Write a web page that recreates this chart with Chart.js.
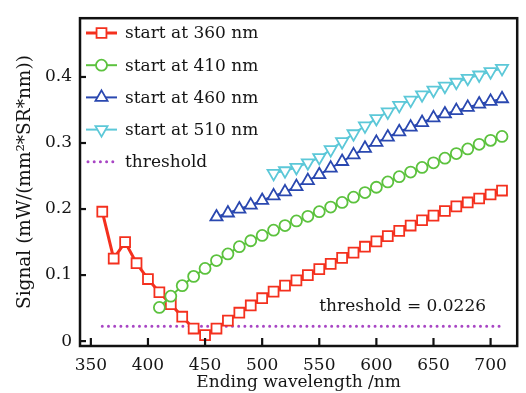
<!DOCTYPE html>
<html>
<head>
<meta charset="utf-8">
<script src="https://cdn.jsdelivr.net/npm/chart.js@4.4.1/dist/chart.umd.min.js"></script>
<style>
html,body{margin:0;padding:0;background:#fff;}
#wrap{width:526px;height:393px;position:relative;}
</style>
</head>
<body>
<div id="wrap"><canvas id="c" width="526" height="393"></canvas></div>
<script>
const xTicks = [350, 400, 450, 500, 550, 600, 650, 700];
const yTicks = [0, 0.1, 0.2, 0.3, 0.4];
const yTickLabels = ['0', '0.1', '0.2', '0.3', '0.4'];

const wl360 = [360,370,380,390,400,410,420,430,440,450,460,470,480,490,500,510,520,530,540,550,560,570,580,590,600,610,620,630,640,650,660,670,680,690,700,710];
const sig360 = [0.196,0.125,0.150,0.118,0.094,0.074,0.056,0.037,0.019,0.009,0.019,0.031,0.043,0.054,0.065,0.075,0.084,0.092,0.100,0.109,0.117,0.126,0.134,0.143,0.151,0.159,0.167,0.175,0.183,0.190,0.197,0.204,0.210,0.216,0.222,0.228];

const wl410 = [410,420,430,440,450,460,470,480,490,500,510,520,530,540,550,560,570,580,590,600,610,620,630,640,650,660,670,680,690,700,710];
const sig410 = [0.051,0.068,0.084,0.098,0.110,0.122,0.132,0.143,0.152,0.160,0.168,0.175,0.182,0.189,0.196,0.203,0.210,0.218,0.225,0.233,0.241,0.249,0.256,0.263,0.270,0.277,0.284,0.291,0.298,0.304,0.310];

const wl460 = [460,470,480,490,500,510,520,530,540,550,560,570,580,590,600,610,620,630,640,650,660,670,680,690,700,710];
const sig460 = [0.188,0.194,0.200,0.206,0.213,0.220,0.226,0.234,0.243,0.252,0.262,0.272,0.282,0.292,0.301,0.309,0.317,0.324,0.331,0.338,0.344,0.349,0.354,0.359,0.363,0.367];

const wl510 = [510,520,530,540,550,560,570,580,590,600,610,620,630,640,650,660,670,680,690,700,710];
const sig510 = [0.254,0.258,0.263,0.270,0.278,0.290,0.302,0.314,0.326,0.337,0.347,0.357,0.365,0.373,0.380,0.386,0.392,0.398,0.403,0.408,0.413];

const thresholdValue = 0.0226;
const thresholdRange = [360, 710];

const seriesNames = ['start at 360 nm', 'start at 410 nm', 'start at 460 nm', 'start at 510 nm', 'threshold'];
const thresholdLabel = 'threshold = 0.0226';
const xTitle = 'Ending wavelength /nm';
const yTitle = 'Signal (mW/(mm\u00B2*SR*nm))';

const RED = '#f4301e', GREEN = '#5cc23e', BLUE = '#2a48b0', CYAN = '#5cc8d8', PURPLE = '#a845c4';
const FONT = '"DejaVu Serif", serif';
const TXT = '#151515';

const pts = (xs, ys) => xs.map((x, i) => ({x: x, y: ys[i]}));

const styles = [
  {color: RED, style: 'rect', radius: 7, rot: 0, lw: 3},
  {color: GREEN, style: 'circle', radius: 5.5, rot: 0, lw: 2},
  {color: BLUE, style: 'triangle', radius: 7, rot: 0, lw: 2},
  {color: CYAN, style: 'triangle', radius: 7, rot: 180, lw: 2}
];
const seriesData = [pts(wl360, sig360), pts(wl410, sig410), pts(wl460, sig460), pts(wl510, sig510)];

const datasets = seriesData.map((d, i) => ({
  label: seriesNames[i],
  data: d,
  borderColor: styles[i].color,
  borderWidth: styles[i].lw,
  pointStyle: styles[i].style,
  pointRadius: styles[i].radius,
  pointRotation: styles[i].rot,
  pointBorderWidth: 1.8,
  pointBorderColor: styles[i].color,
  pointBackgroundColor: '#ffffff',
  tension: 0,
  order: 4 - i
}));
datasets.push({
  label: seriesNames[4],
  data: thresholdRange.map(x => ({x: x, y: thresholdValue})),
  borderColor: PURPLE,
  borderWidth: 3,
  borderDash: [0, 6.2],
  borderCapStyle: 'round',
  pointRadius: 0,
  order: 5
});

const custom = {
  id: 'custom',
  afterDraw(chart) {
    const ctx = chart.ctx, a = chart.chartArea;
    const xs = chart.scales.x, ys = chart.scales.y;
    ctx.save();
    // frame
    ctx.strokeStyle = '#111';
    ctx.lineWidth = 2.5;
    ctx.strokeRect(a.left, a.top, a.right - a.left, a.bottom - a.top);
    // inward ticks
    ctx.lineWidth = 2.2;
    xTicks.forEach(v => {
      const px = xs.getPixelForValue(v);
      ctx.beginPath(); ctx.moveTo(px, a.bottom); ctx.lineTo(px, a.bottom - 8); ctx.stroke();
    });
    yTicks.forEach(v => {
      const py = ys.getPixelForValue(v);
      ctx.beginPath(); ctx.moveTo(a.left, py); ctx.lineTo(a.left + 6, py); ctx.stroke();
    });
    // threshold annotation
    ctx.fillStyle = TXT;
    ctx.font = '17px ' + FONT;
    ctx.textAlign = 'center';
    ctx.textBaseline = 'middle';
    ctx.fillText(thresholdLabel, xs.getPixelForValue(623), ys.getPixelForValue(0.052));
    // legend
    const lx0 = a.left + 6, lx1 = a.left + 37, tx = a.left + 45;
    const ly0 = 33, step = 32.2;
    ctx.font = '17px ' + FONT;
    ctx.textAlign = 'left';
    for (let i = 0; i < 5; i++) {
      const y = ly0 + i * step;
      if (i < 4) {
        const s = styles[i];
        ctx.strokeStyle = s.color;
        ctx.lineWidth = s.lw;
        ctx.beginPath(); ctx.moveTo(lx0, y); ctx.lineTo(lx1, y); ctx.stroke();
        ctx.fillStyle = '#fff';
        ctx.lineWidth = 1.8;
        Chart.helpers.drawPoint(ctx, {pointStyle: s.style, rotation: s.rot, radius: s.radius, borderWidth: 1.8}, (lx0 + lx1) / 2, y);
      } else {
        ctx.strokeStyle = PURPLE;
        ctx.lineWidth = 3;
        ctx.lineCap = 'round';
        ctx.setLineDash([0, 6.2]);
        ctx.beginPath(); ctx.moveTo(lx0 + 2, y); ctx.lineTo(lx1, y); ctx.stroke();
        ctx.setLineDash([]);
        ctx.lineCap = 'butt';
      }
      ctx.fillStyle = TXT;
      ctx.fillText(seriesNames[i], tx, y + 1);
    }
    ctx.restore();
  }
};

new Chart(document.getElementById('c'), {
  type: 'line',
  data: {datasets: datasets},
  options: {
    responsive: false,
    animation: false,
    layout: {padding: {left: 14, right: 2, top: 12, bottom: 0}},
    plugins: {legend: {display: false}, tooltip: {enabled: false}},
    scales: {
      x: {
        type: 'linear',
        min: 340.5, max: 723.3,
        afterBuildTicks: s => { s.ticks = xTicks.map(v => ({value: v})); },
        afterFit: s => { s.height = 47; },
        grid: {display: false, drawTicks: false},
        border: {display: false},
        ticks: {color: TXT, font: {family: FONT, size: 17}, padding: 9, maxRotation: 0, autoSkip: false},
        title: {display: true, text: xTitle, color: TXT, font: {family: FONT, size: 17}, padding: {top: 0, bottom: 0}}
      },
      y: {
        type: 'linear',
        min: -0.0074, max: 0.489,
        afterBuildTicks: s => { s.ticks = yTicks.map(v => ({value: v})); },
        afterFit: s => { s.width = 66; },
        grid: {display: false, drawTicks: false},
        border: {display: false},
        ticks: {color: TXT, font: {family: FONT, size: 17}, padding: 8, autoSkip: false,
          callback: (v) => { const i = yTicks.indexOf(v); return i >= 0 ? yTickLabels[i] : ''; }},
        title: {display: true, text: yTitle, color: TXT, font: {family: FONT, size: 18.5}, padding: {top: 0, bottom: 2}}
      }
    }
  },
  plugins: [custom]
});
</script>
</body>
</html>
